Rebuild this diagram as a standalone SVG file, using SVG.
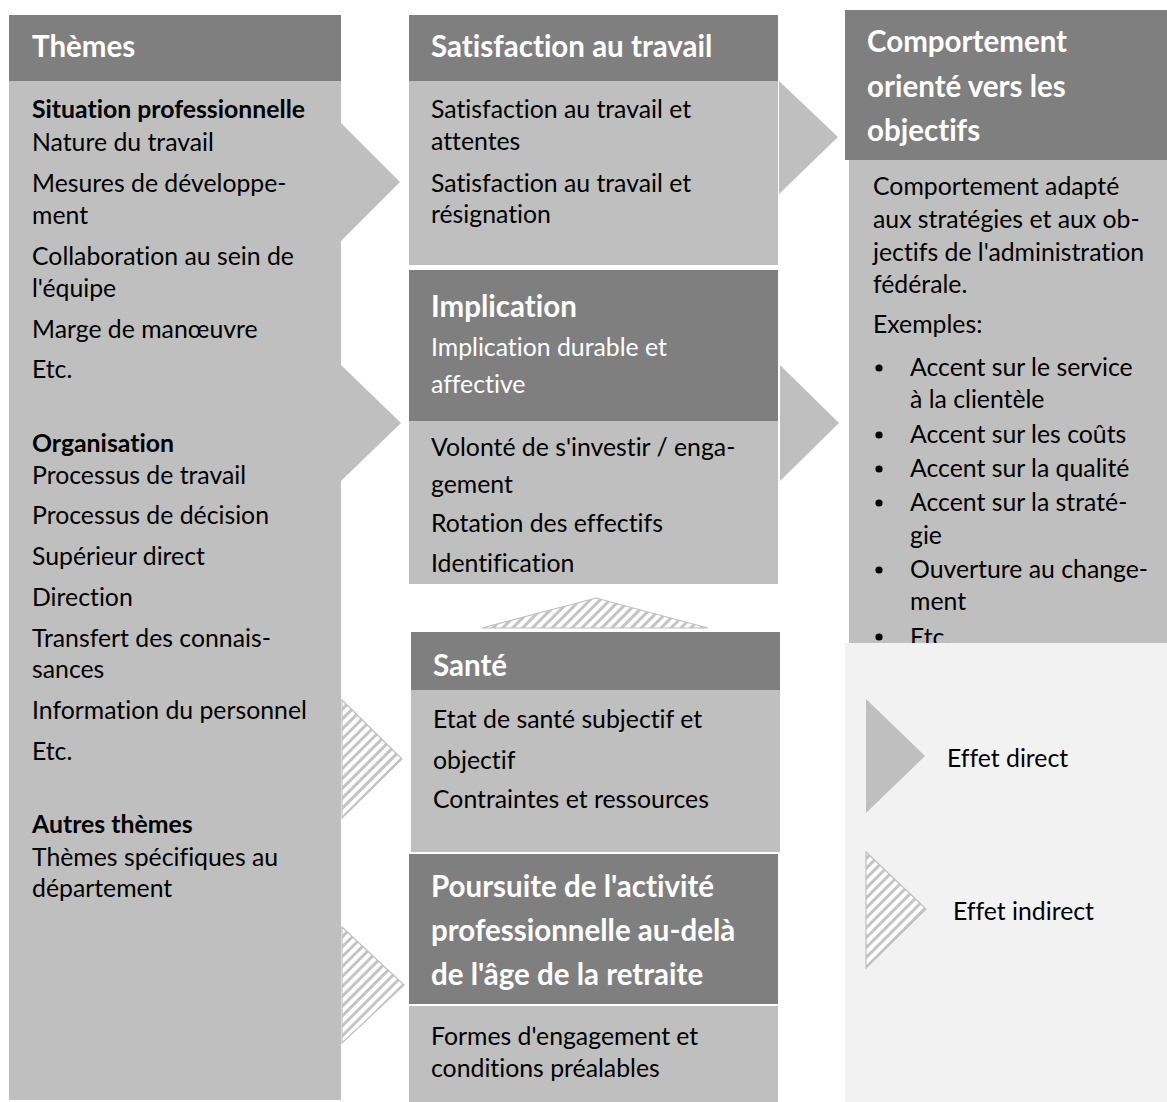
<svg xmlns="http://www.w3.org/2000/svg" width="1167" height="1102" viewBox="0 0 1167 1102">
<defs>
<pattern id="hatch" patternUnits="userSpaceOnUse" width="7" height="7" patternTransform="rotate(45)">
<rect width="7" height="7" fill="#ffffff"/>
<rect width="3" height="7" fill="#c4c4c4"/>
</pattern>
<style>
.hd{fill:#7f7f7f}
.bd{fill:#bfbfbf}
.t{font-family:Lato,"Liberation Sans",sans-serif;font-size:24.8px;fill:#000;font-variant-ligatures:none}
.b{font-weight:bold}
.w{fill:#ffffff}
.h{font-family:Lato,"Liberation Sans",sans-serif;font-size:29.5px;font-weight:bold;fill:#ffffff;font-variant-ligatures:none}
.direct{fill:#bfbfbf}
.indirect{fill:url(#hatch);stroke:#c0c0c0;stroke-width:1.2}
</style>
</defs>
<rect width="1167" height="1102" fill="#ffffff"/>

<g id="themes">
<rect class="hd" x="9" y="15" width="332" height="66"/>
<rect class="bd" x="9" y="81" width="332" height="1019"/>
<text class="h" x="32" y="57">Thèmes</text>
<text class="t b" x="32" y="118">Situation professionnelle</text>
<text class="t" x="32" y="151">Nature du travail</text>
<text class="t" x="32" y="192">Mesures de développe-</text>
<text class="t" x="32" y="224">ment</text>
<text class="t" x="32" y="265">Collaboration au sein de</text>
<text class="t" x="32" y="297">l'équipe</text>
<text class="t" x="32" y="338">Marge de manœuvre</text>
<text class="t" x="32" y="378">Etc.</text>
<text class="t b" x="32" y="452">Organisation</text>
<text class="t" x="32" y="484">Processus de travail</text>
<text class="t" x="32" y="524">Processus de décision</text>
<text class="t" x="32" y="565">Supérieur direct</text>
<text class="t" x="32" y="606">Direction</text>
<text class="t" x="32" y="647">Transfert des connais-</text>
<text class="t" x="32" y="678">sances</text>
<text class="t" x="32" y="719">Information du personnel</text>
<text class="t" x="32" y="760">Etc.</text>
<text class="t b" x="32" y="833">Autres thèmes</text>
<text class="t" x="32" y="866">Thèmes spécifiques au</text>
<text class="t" x="32" y="897">département</text>
</g>

<g id="satisfaction">
<rect class="hd" x="409" y="15" width="369" height="66"/>
<rect class="bd" x="409" y="81" width="369" height="184"/>
<text class="h" x="431" y="57">Satisfaction au travail</text>
<text class="t" x="431" y="118">Satisfaction au travail et</text>
<text class="t" x="431" y="150">attentes</text>
<text class="t" x="431" y="192">Satisfaction au travail et</text>
<text class="t" x="431" y="223">résignation</text>
</g>

<g id="implication">
<rect class="hd" x="409" y="270" width="369" height="151"/>
<rect class="bd" x="409" y="421" width="369" height="163"/>
<text class="h" x="431" y="317">Implication</text>
<text class="t w" x="431" y="356">Implication durable et</text>
<text class="t w" x="431" y="393">affective</text>
<text class="t" x="431" y="456">Volonté de s'investir / enga-</text>
<text class="t" x="431" y="493">gement</text>
<text class="t" x="431" y="532">Rotation des effectifs</text>
<text class="t" x="431" y="572">Identification</text>
</g>

<g id="sante">
<rect class="hd" x="411" y="632" width="369" height="58"/>
<rect class="bd" x="411" y="690" width="369" height="162"/>
<text class="h" x="433" y="676">Santé</text>
<text class="t" x="433" y="728">Etat de santé subjectif et</text>
<text class="t" x="433" y="769">objectif</text>
<text class="t" x="433" y="808">Contraintes et ressources</text>
</g>

<g id="poursuite">
<rect class="hd" x="409" y="854" width="369" height="150"/>
<rect class="bd" x="409" y="1006" width="369" height="96"/>
<text class="h" x="431" y="897">Poursuite de l'activité</text>
<text class="h" x="431" y="941">professionnelle au-delà</text>
<text class="h" x="431" y="985">de l'âge de la retraite</text>
<text class="t" x="431" y="1045">Formes d'engagement et</text>
<text class="t" x="431" y="1077">conditions préalables</text>
</g>

<g id="comportement">
<rect class="hd" x="845" y="10" width="322" height="150"/>
<rect class="bd" x="849" y="160" width="318" height="483"/>
<text class="h" x="867" y="52">Comportement</text>
<text class="h" x="867" y="97">orienté vers les</text>
<text class="h" x="867" y="141">objectifs</text>
<text class="t" x="873" y="195">Comportement adapté</text>
<text class="t" x="873" y="228">aux stratégies et aux ob-</text>
<text class="t" x="873" y="261">jectifs de l'administration</text>
<text class="t" x="873" y="293">fédérale.</text>
<text class="t" x="873" y="333">Exemples:</text>
<circle cx="879" cy="368" r="3.6"/>
<text class="t" x="910" y="376">Accent sur le service</text>
<text class="t" x="910" y="408">à la clientèle</text>
<circle cx="879" cy="435" r="3.6"/>
<text class="t" x="910" y="443">Accent sur les coûts</text>
<circle cx="879" cy="469" r="3.6"/>
<text class="t" x="910" y="477">Accent sur la qualité</text>
<circle cx="879" cy="503" r="3.6"/>
<text class="t" x="910" y="511">Accent sur la straté-</text>
<text class="t" x="910" y="544">gie</text>
<circle cx="879" cy="570" r="3.6"/>
<text class="t" x="910" y="578">Ouverture au change-</text>
<text class="t" x="910" y="610">ment</text>
<circle cx="879" cy="637" r="3.6"/>
<text class="t" x="910" y="646">Etc.</text>
</g>

<g id="legend">
<rect x="845" y="643" width="322" height="459" fill="#f2f2f2"/>
<polygon class="direct" points="866,699 925,756 866,813"/>
<text class="t" x="947" y="767">Effet direct</text>
<polygon class="indirect" points="866,852 926,909 866,968"/>
<text class="t" x="953" y="920">Effet indirect</text>
</g>

<g id="connectors">
<polygon class="direct" points="341,123 400,182 341,241"/>
<polygon class="direct" points="341,365 401,423 341,481"/>
<polygon class="direct" points="779,81 838,137 779,194"/>
<polygon class="direct" points="780,365 839,423 780,481"/>
<polygon class="indirect" points="342,700 402,759 342,818"/>
<polygon class="indirect" points="342,927 404,985 342,1043"/>
<polygon class="indirect" points="482,628 596,598 708,628"/>
</g>
</svg>
